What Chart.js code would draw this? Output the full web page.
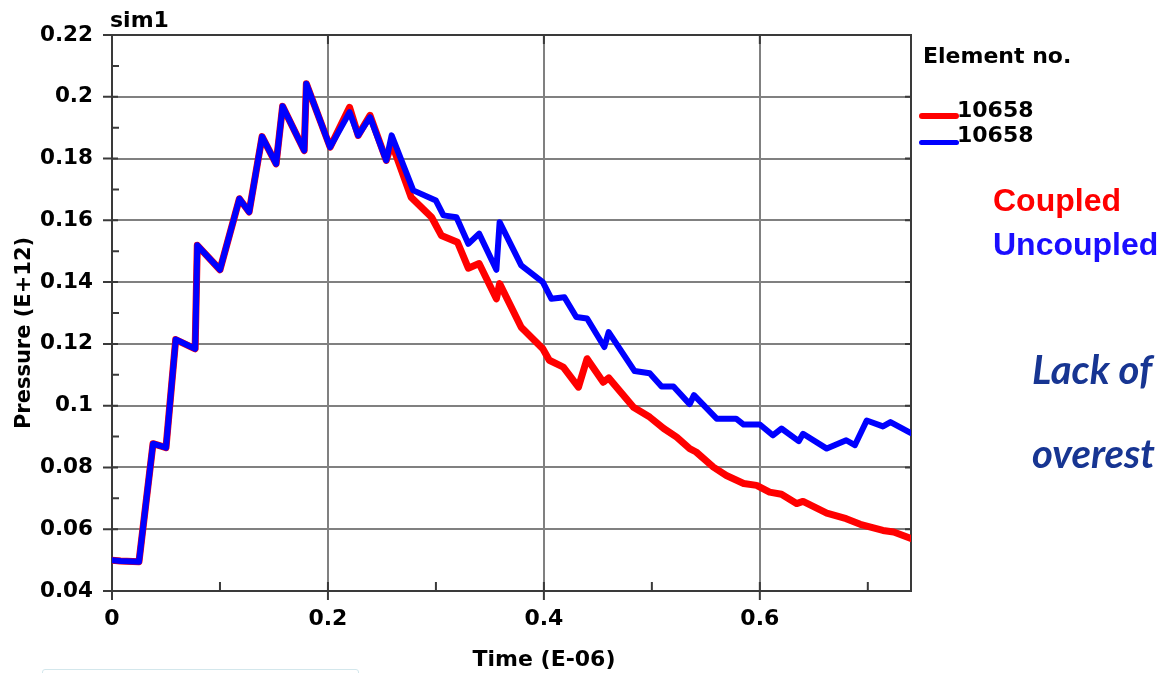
<!DOCTYPE html>
<html>
<head>
<meta charset="utf-8">
<title>sim1 pressure</title>
<script src="https://cdn.jsdelivr.net/npm/chart.js@4.4.1/dist/chart.umd.min.js"></script>
<style>
  body { margin: 0; background: #fff; }
  #wrap { position: relative; width: 1159px; height: 673px; overflow: hidden; background: #fff; }
  #myChart { position: absolute; left: 0; top: 0; }
  .note { position: absolute; white-space: nowrap; line-height: 1; }
  .legend-title, .legend-text { position: absolute; white-space: nowrap; line-height: 1;
    font: bold 22px "DejaVu Sans", sans-serif; color: #000; }
  .legend-line { position: absolute; border-radius: 3px; }
  #caseCoupled { left: 993px; top: 182px; font: bold 32px "Liberation Sans", Arial, sans-serif; color: #ff0000; }
  #caseUncoupled { left: 993px; top: 226px; font: bold 32px "Liberation Sans", Arial, sans-serif; color: #1a0dff; }
  #remark1 { left: 1032px; top: 345px; font: italic bold 40px Lato, sans-serif; color: #173592; }
  #remark2 { left: 1032px; top: 429px; font: italic bold 40px Lato, sans-serif; color: #173592; }
  #box { position: absolute; left: 42px; top: 669px; width: 315px; height: 20px;
    border: 1px solid #d3e7ec; border-radius: 3px; }
</style>
</head>
<body>
<div id="wrap">
  <canvas id="myChart" width="1159" height="673"></canvas>
  <div id="legend"></div>
  <div class="note" id="caseCoupled"></div>
  <div class="note" id="caseUncoupled"></div>
  <div class="note" id="remark1">Lack of</div>
  <div class="note" id="remark2">overest</div>
  <div id="box"></div>
</div>
<script>
// element 10658, pressure history (E+12) against time (E-06)
var coupledTime = [
    0, 0.008, 0.025, 0.038, 0.050, 0.059, 0.077, 0.079, 0.100, 0.118, 0.127,
    0.139, 0.152, 0.158, 0.178, 0.180, 0.202, 0.220, 0.228, 0.239, 0.254, 0.259,
    0.277, 0.296, 0.305, 0.320, 0.330, 0.340, 0.356, 0.359, 0.379, 0.399, 0.405,
    0.418, 0.432, 0.440, 0.455, 0.460, 0.483, 0.498, 0.511, 0.523, 0.535, 0.541,
    0.557, 0.569, 0.585, 0.597, 0.609, 0.620, 0.634, 0.640, 0.662, 0.680, 0.693,
    0.714, 0.724, 0.740,
];
var coupledPressure = [
    0.0500, 0.0497, 0.0495, 0.0877, 0.0864, 0.1214, 0.1184, 0.1519, 0.1440, 0.1670, 0.1627,
    0.1871, 0.1783, 0.1969, 0.1826, 0.2042, 0.1837, 0.1966, 0.1875, 0.1940, 0.1794, 0.1850,
    0.1675, 0.1610, 0.1551, 0.1529, 0.1445, 0.1460, 0.1346, 0.1395, 0.1254, 0.1184, 0.1147,
    0.1125, 0.1060, 0.1152, 0.1076, 0.1090, 0.0995, 0.0963, 0.0926, 0.0898, 0.0861, 0.0850,
    0.0801, 0.0774, 0.0748, 0.0742, 0.0720, 0.0713, 0.0683, 0.0690, 0.0652, 0.0634, 0.0616,
    0.0596, 0.0591, 0.0570,
];
var uncoupledTime = [
    0, 0.008, 0.025, 0.038, 0.050, 0.059, 0.077, 0.079, 0.100, 0.118, 0.127,
    0.139, 0.152, 0.158, 0.178, 0.180, 0.202, 0.220, 0.228, 0.239, 0.254, 0.259,
    0.279, 0.300, 0.307, 0.319, 0.330, 0.340, 0.356, 0.359, 0.379, 0.399, 0.407,
    0.419, 0.430, 0.440, 0.456, 0.460, 0.484, 0.498, 0.509, 0.520, 0.535, 0.539,
    0.560, 0.578, 0.585, 0.600, 0.612, 0.620, 0.636, 0.640, 0.662, 0.680, 0.688,
    0.699, 0.714, 0.721, 0.740,
];
var uncoupledPressure = [
    0.0500, 0.0497, 0.0495, 0.0877, 0.0864, 0.1214, 0.1184, 0.1519, 0.1440, 0.1670, 0.1627,
    0.1871, 0.1783, 0.1969, 0.1826, 0.2042, 0.1837, 0.1950, 0.1875, 0.1934, 0.1794, 0.1875,
    0.1697, 0.1664, 0.1616, 0.1610, 0.1524, 0.1557, 0.1440, 0.1594, 0.1454, 0.1400, 0.1346,
    0.1351, 0.1287, 0.1282, 0.1190, 0.1238, 0.1112, 0.1105, 0.1062, 0.1062, 0.1005, 0.1034,
    0.0958, 0.0958, 0.0939, 0.0939, 0.0904, 0.0926, 0.0885, 0.0909, 0.0861, 0.0888, 0.0872,
    0.0952, 0.0933, 0.0947, 0.0911,
];
var elementIds = ["10658", "10658"];
var caseNames = ["Coupled", "Uncoupled"];
var xTickLabels = ["0", "0.2", "0.4", "0.6"];
var yTickLabels = ["0.04", "0.06", "0.08", "0.1", "0.12", "0.14", "0.16", "0.18", "0.2", "0.22"];

function toPoints(xs, ys) {
    return xs.map(function (x, i) { return { x: x, y: ys[i] }; });
}

function labelFor(list) {
    return function (value) {
        for (var i = 0; i < list.length; i++) {
            if (Math.abs(Number(list[i]) - value) < 1e-9) return list[i];
        }
        return "";
    };
}

var xStep = Number(xTickLabels[1]) - Number(xTickLabels[0]);
var yStep = Number(yTickLabels[1]) - Number(yTickLabels[0]);
var tickFont = { family: "DejaVu Sans", weight: "bold" };
var frameColor = "#3a3a3a";

// tick marks and the top/right edges of the plot frame
var frame = {
    id: "frame",
    beforeDatasetsDraw: function (chart) {
        var ctx = chart.ctx, a = chart.chartArea, x = chart.scales.x, y = chart.scales.y;
        ctx.save();
        ctx.strokeStyle = frameColor;
        ctx.lineWidth = 2;
        ctx.beginPath();
        ctx.moveTo(a.left, a.top);
        ctx.lineTo(a.right, a.top);
        ctx.lineTo(a.right, a.bottom);
        yTickLabels.forEach(function (lab, i) {
            var py = y.getPixelForValue(Number(lab));
            ctx.moveTo(a.left - 9, py); ctx.lineTo(a.left + 6, py);
            ctx.moveTo(a.right - 6, py); ctx.lineTo(a.right, py);
            if (i > 0) {
                var my = y.getPixelForValue(Number(lab) - yStep / 2);
                ctx.moveTo(a.left, my); ctx.lineTo(a.left + 7, my);
            }
        });
        xTickLabels.forEach(function (lab) {
            var v = Number(lab);
            var px = x.getPixelForValue(v);
            ctx.moveTo(px, a.bottom - 9); ctx.lineTo(px, a.bottom + 9);
            ctx.moveTo(px, a.top); ctx.lineTo(px, a.top + 9);
            if (v + xStep / 2 <= x.max) {
                var mx = x.getPixelForValue(v + xStep / 2);
                ctx.moveTo(mx, a.bottom - 9); ctx.lineTo(mx, a.bottom);
            }
        });
        ctx.stroke();
        ctx.restore();
    },
    afterDraw: function (chart) {
        var ctx = chart.ctx;
        ctx.save();
        ctx.fillStyle = "#000";
        ctx.font = "bold 22px 'DejaVu Sans'";
        ctx.textBaseline = "alphabetic";
        ctx.textAlign = "left";
        ctx.fillText("sim1", 110, 27);
        ctx.textAlign = "center";
        ctx.fillText("Time (E-06)", 544, 666);
        ctx.translate(30, 333);
        ctx.rotate(-Math.PI / 2);
        ctx.font = "bold 21px 'DejaVu Sans'";
        ctx.fillText("Pressure (E+12)", 0, 0);
        ctx.restore();
    }
};

var ctx = document.getElementById("myChart").getContext("2d");
var myChart = new Chart(ctx, {
    type: "line",
    data: {
        datasets: [
            {
                label: elementIds[0],
                data: toPoints(coupledTime, coupledPressure),
                borderColor: "#ff0000",
                backgroundColor: "#ff0000",
                borderWidth: 7,
                order: 1,
            },
            {
                label: elementIds[1],
                data: toPoints(uncoupledTime, uncoupledPressure),
                borderColor: "#0000ff",
                backgroundColor: "#0000ff",
                borderWidth: 6,
                order: 0,
            },
        ],
    },
    options: {
        responsive: false,
        animation: false,
        layout: { padding: { top: 35, right: 248, left: 0, bottom: 0 } },
        plugins: { legend: { display: false }, tooltip: { enabled: false } },
        elements: {
            point: { radius: 0 },
            line: { tension: 0, borderJoinStyle: "round", borderCapStyle: "round" },
        },
        scales: {
            x: {
                type: "linear",
                min: Number(xTickLabels[0]),
                max: coupledTime[coupledTime.length - 1],
                afterFit: function (s) { s.height = 82; },
                grid: { color: "#808080", lineWidth: 2, drawTicks: false },
                border: { color: frameColor, width: 2 },
                ticks: {
                    stepSize: xStep,
                    includeBounds: false,
                    autoSkip: false,
                    maxRotation: 0,
                    padding: 15,
                    color: "#000",
                    font: Object.assign({ size: 22 }, tickFont),
                    callback: labelFor(xTickLabels),
                },
            },
            y: {
                min: Number(yTickLabels[0]),
                max: Number(yTickLabels[yTickLabels.length - 1]),
                afterFit: function (s) { s.width = 112; },
                grid: { color: "#808080", lineWidth: 2, drawTicks: false },
                border: { color: frameColor, width: 2 },
                ticks: {
                    stepSize: yStep,
                    autoSkip: false,
                    padding: 19,
                    color: "#000",
                    font: Object.assign({ size: 21.5 }, tickFont),
                    callback: labelFor(yTickLabels),
                },
            },
        },
    },
    plugins: [frame],
});

// legend: "Element no." with one line swatch per dataset
var legend = document.getElementById("legend");
var head = document.createElement("div");
head.className = "legend-title";
head.style.left = "923px";
head.style.top = "43px";
head.textContent = "Element no.";
legend.appendChild(head);
myChart.data.datasets.forEach(function (ds, i) {
    var thick = ds.borderWidth - 1;
    var line = document.createElement("div");
    line.className = "legend-line";
    line.style.left = "919px";
    line.style.width = "40px";
    line.style.height = thick + "px";
    line.style.top = (116 + i * 26.5 - thick / 2) + "px";
    line.style.background = ds.borderColor;
    legend.appendChild(line);
    var txt = document.createElement("div");
    txt.className = "legend-text";
    txt.style.left = "957px";
    txt.style.top = (96.5 + i * 25.7) + "px";
    txt.textContent = ds.label;
    legend.appendChild(txt);
});
document.getElementById("caseCoupled").textContent = caseNames[0];
document.getElementById("caseUncoupled").textContent = caseNames[1];
</script>
</body>
</html>
